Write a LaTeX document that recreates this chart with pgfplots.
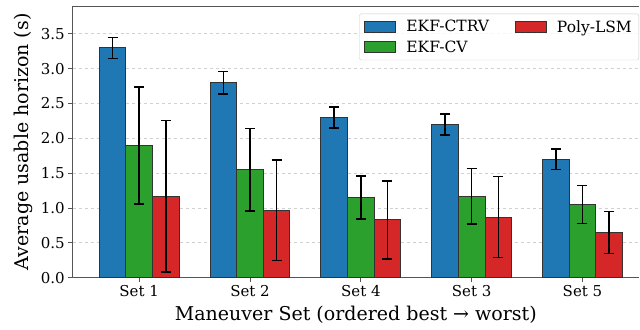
\documentclass[border=0pt]{standalone}
\usepackage{pgfplots}
\pgfplotsset{compat=1.18}
\usepackage{pgfplotstable}
\usepackage{fontspec}
\setmainfont{DejaVu Serif}
\definecolor{tabblue}{HTML}{1F77B4}
\definecolor{tabgreen}{HTML}{2CA02C}
\definecolor{tabred}{HTML}{D62728}
\definecolor{spine}{HTML}{555555}
\pgfplotstableread{
x y err
0 3.30 0.15
1 2.80 0.16
2 2.30 0.15
3 2.20 0.15
4 1.70 0.15
}\ctrv
\pgfplotstableread{
x y err
0 1.90 0.84
1 1.55 0.59
2 1.15 0.31
3 1.17 0.40
4 1.05 0.27
}\cv
\pgfplotstableread{
x y err
0 1.17 1.09
1 0.97 0.72
2 0.83 0.56
3 0.87 0.58
4 0.65 0.30
}\poly
\pgfplotsset{
  myerr/.style={
    error bars/y dir=both, error bars/y explicit,
    error bars/error bar style={black, line width=1.5bp, solid},
    error bars/error mark options={rotate=90, mark size=5bp, black, line width=1.5bp},
  }
}
\begin{document}
\begin{tikzpicture}
\useasboundingbox (-72.7bp,-52.3bp) rectangle (567.3bp,277.7bp);
\begin{axis}[
  at={(0,0)}, anchor=south west,
  scale only axis, width=566.3bp, height=271.7bp,
  xmin=-0.6, xmax=4.51, ymin=0, ymax=3.9,
  axis x line*=box, axis y line*=left,
  axis line style={spine, line width=1bp},
  xtick={0,1,2,3,4},
  xticklabels={Set 1, Set 2, Set 4, Set 3, Set 5},
  ytick={0,0.5,...,3.5},
  xtick pos=lower, ytick pos=left, tick align=outside,
  major tick length=4.5bp,
  tick style={spine, line width=1bp},
  yticklabel style={/pgf/number format/.cd, fixed, fixed zerofill, precision=1, assume math mode=true},
  ticklabel style={font=\fontsize{15bp}{18bp}\selectfont},
  xlabel={Maneuver Set (ordered best → worst)},
  ylabel={Average usable horizon (s)},
  label style={font=\fontsize{19bp}{22bp}\selectfont},
  xlabel style={yshift=-2bp},
  ylabel style={yshift=1bp},
  ymajorgrids,
  grid style={dashed, black!18, line width=0.8bp},
  ybar, bar width=0.24,
  every axis plot/.append style={draw=black!80, line width=0.9bp},
  legend columns=2,
  legend cell align=left,
  legend image code/.code={\draw[#1, sharp corners, fill opacity=1, draw opacity=1] (0bp,-5.5bp) rectangle (31bp,5.5bp);},
  legend style={at={(1.0,0.972)}, anchor=north east,
    draw=black!20, rounded corners=2bp, fill=white, fill opacity=0.8, text opacity=1,
    font=\fontsize{15.5bp}{18bp}\selectfont,
    row sep=3bp, inner xsep=5bp, inner ysep=4.5bp,
    /tikz/every odd column/.append style={column sep=8bp},
    /tikz/every even column/.append style={column sep=24bp}},
]
\addplot[fill=tabblue, bar shift=-0.24, myerr] table[x=x, y=y, y error=err] {\ctrv};
\addplot[fill=tabred, bar shift=0.24, myerr] table[x=x, y=y, y error=err] {\poly};
\addplot[fill=tabgreen, bar shift=0, myerr] table[x=x, y=y, y error=err] {\cv};
\legend{EKF-CTRV, Poly-LSM, EKF-CV}
\end{axis}
\end{tikzpicture}
\end{document}
